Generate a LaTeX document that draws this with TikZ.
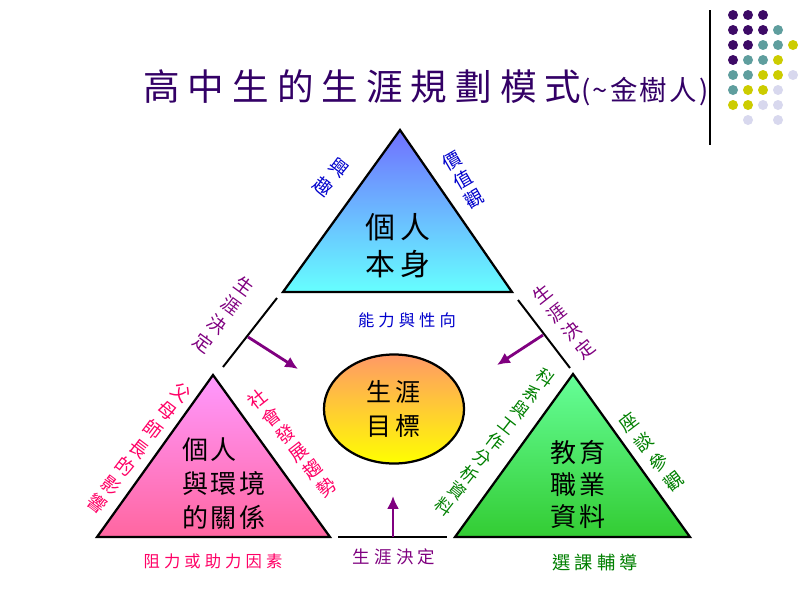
\documentclass[tikz,border=0pt]{standalone}
\usepackage{fontspec}
\setmainfont{Noto Sans CJK TC}
\usetikzlibrary{positioning, arrows.meta, shapes.geometric}
\definecolor{titlecol}{RGB}{51,0,102}
\definecolor{bluetxt}{RGB}{0,0,204}
\definecolor{purptxt}{RGB}{128,0,128}
\definecolor{pinktxt}{RGB}{255,0,102}
\definecolor{greentxt}{RGB}{0,128,0}
\definecolor{selfTop}{RGB}{112,112,255}
\definecolor{selfBot}{RGB}{102,255,255}
\definecolor{envTop}{RGB}{255,153,255}
\definecolor{envBot}{RGB}{255,102,160}
\definecolor{infoTop}{RGB}{102,255,153}
\definecolor{infoBot}{RGB}{51,204,51}
\definecolor{goalTop}{RGB}{255,153,102}
\definecolor{goalBot}{RGB}{255,255,0}
\definecolor{dotP}{RGB}{61,10,102}
\definecolor{dotT}{RGB}{95,158,158}
\definecolor{dotY}{RGB}{204,204,0}
\definecolor{dotL}{RGB}{216,216,238}
\tikzset{
  tri/.style={draw=black, line width=1.6pt, line join=miter},
  sep/.style={line width=1.4pt},
  dec/.style={draw=purptxt, line width=2pt, -{Latex[length=3.2mm, width=3mm]}},
  inner/.style={align=center, inner sep=0pt,
    font=\fontsize{18.5}{24.2}\selectfont\addfontfeatures{LetterSpace=8}},
  lbl/.style={inner sep=0pt,
    font=\fontsize{11.6}{14}\selectfont\addfontfeatures{LetterSpace=25}},
  side/.style={align=center, inner sep=0pt, font=\fontsize{13.2}{16.6}\selectfont},
}

\begin{document}
\begin{tikzpicture}[x=0.025cm, y=-0.025cm]
\fill[white] (0,0) rectangle (800,600);
\useasboundingbox (0,0) rectangle (800,600);

% ── Titulo y adorno ─────────────────────────────────────────
\node[anchor=west, inner sep=0pt, text=titlecol] (title) at (143,88)
  {{\fontsize{26}{30}\selectfont\addfontfeatures{LetterSpace=22}高中生的生涯規劃模式}%
   {\fontsize{19.5}{22}\selectfont\addfontfeatures{LetterSpace=8}(\textasciitilde 金樹人)}};
\draw[line width=0.8pt] (710,10) coordinate (rule1) -- (710,145) coordinate (rule2);
\foreach \cs [count=\r from 0] in {
    {dotP,dotP,dotP,none,none},
    {dotP,dotP,dotP,dotT,none},
    {dotP,dotP,dotT,dotT,dotY},
    {dotP,dotT,dotT,dotY,none},
    {dotT,dotT,dotY,dotY,dotL},
    {dotT,dotY,dotY,dotL,none},
    {dotY,dotY,dotL,dotL,none},
    {none,dotL,none,dotL,none}} {
  \foreach \c [count=\i from 0] in \cs {
    \fill[fill=\c] (733+15*\i, 15+15*\r) circle (5);
  }
}

% ── Triangulos ──────────────────────────────────────────────
\path[tri, top color=selfTop, bottom color=selfBot]
  (400,130) coordinate (selfT) -- (283,292) coordinate (selfL)
  -- (512,292) coordinate (selfR) -- cycle;
\path[tri, top color=envTop, bottom color=envBot]
  (213,375) coordinate (envT) -- (97,537) coordinate (envL)
  -- (330,537) coordinate (envR) -- cycle;
\path[tri, top color=infoTop, bottom color=infoBot]
  (573,374) coordinate (infoT) -- (455,537) coordinate (infoL)
  -- (690,537) coordinate (infoR) -- cycle;

\node[inner, font=\fontsize{21.3}{26.3}\selectfont\addfontfeatures{LetterSpace=17}]
  (self) at (398,246) {個人\\本身};
\node[inner, align=left] (env) at (224,484) {個人\\與環境\\的關係};
\node[inner, font=\fontsize{18.5}{22.8}\selectfont\addfontfeatures{LetterSpace=8}]
  (info) at (578,484) {教育\\職業\\資料};

% ── Meta ────────────────────────────────────────────────────
\node[ellipse, draw, line width=1.6pt, top color=goalTop, bottom color=goalBot,
  minimum width=3.5cm, minimum height=2.725cm, inner sep=0pt, align=center,
  font=\fontsize{17.8}{24.2}\selectfont\addfontfeatures{LetterSpace=16}]
  (goal) at (394,409) {生涯\\目標};

% ── Separadores y decisiones ────────────────────────────────
\coordinate (dlA) at (277,298);
\coordinate (dlB) at (223,367);
\coordinate (drA) at (518,300);
\coordinate (drB) at (570,368);
\coordinate (dbA) at (338,537);
\coordinate (dbB) at (447,537);
\draw[sep] (dlA) -- (dlB);
\draw[sep] (drA) -- (drB);
\draw[sep] (dbA) -- (dbB);

\coordinate (decL) at (248,337);
\coordinate (decR) at (543,335);
\coordinate (decB) at (393,537);
\coordinate (tipL) at (298,369);
\coordinate (tipR) at (497,365);
\coordinate (tipB) at (393,496);
\draw[dec] (decL) -- (tipL);
\draw[dec] (decR) -- (tipR);
\draw[dec] (decB) -- (tipB);

% ── Rotulos ─────────────────────────────────────────────────
\node[lbl, text=bluetxt] (aptitude) at (407,320) {能力與性向};
\node[lbl, text=pinktxt] (forces) at (213,561) {阻力或助力因素};
\node[lbl, text=purptxt, font=\fontsize{12.4}{14}\selectfont\addfontfeatures{LetterSpace=25}]
  (decision) at (394,557) {生涯決定};
\node[lbl, text=greentxt, font=\fontsize{13}{16}\selectfont\addfontfeatures{LetterSpace=22}]
  (guidance) at (595,563) {選課輔導};

\node[side, text=bluetxt, rotate=-38, font=\fontsize{13.2}{17.6}\selectfont]
  (interest) at (331,177) {興\\趣};
\node[side, text=bluetxt, rotate=30, font=\fontsize{13.2}{15.8}\selectfont]
  (values) at (463,180) {價\\值\\觀};
\node[side, text=purptxt, rotate=-36] (decLtxt) at (224,315) {生\\涯\\決\\定};
\node[side, text=purptxt, rotate=38] (decRtxt) at (564,322) {生\\涯\\決\\定};
\node[side, text=pinktxt, rotate=-37] (parents) at (139,448) {父\\母\\師\\長\\的\\影\\響};
\node[side, text=pinktxt, rotate=38, font=\fontsize{13.2}{15.8}\selectfont]
  (society) at (292,443) {社\\會\\發\\展\\趨\\勢};
\node[side, text=greentxt, rotate=-38, font=\fontsize{12.4}{14.5}\selectfont]
  (majors) at (495,442) {科\\系\\與\\工\\作\\分\\析\\資\\料};
\node[side, text=greentxt, rotate=37, font=\fontsize{13.2}{17.6}\selectfont]
  (visits) at (651,452) {座\\談\\參\\觀};

\end{tikzpicture}
\end{document}
